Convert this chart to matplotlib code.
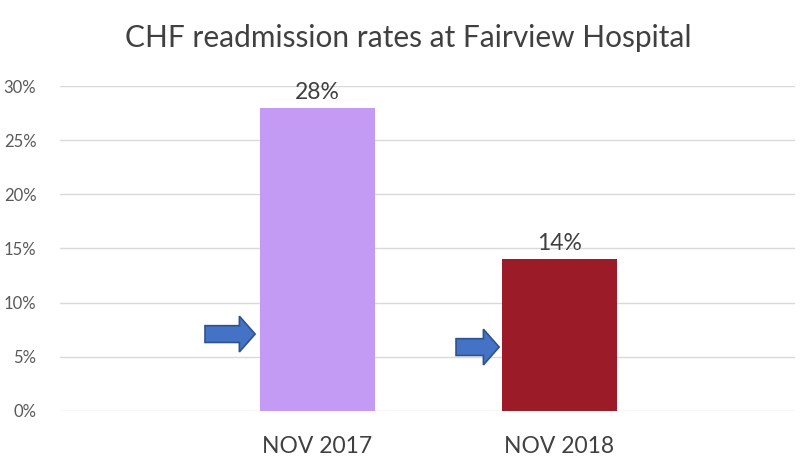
import matplotlib.pyplot as plt
from matplotlib.patches import FancyArrow
from matplotlib.ticker import PercentFormatter

# data
categories = ["NOV 2017", "NOV 2018"]
rates = [28, 14]
bar_colors = ["#C39BF5", "#9B1C28"]
arrow_levels = [7.1, 5.9]   # where the blue arrows point, in %
yticks = [0, 5, 10, 15, 20, 25, 30]

plt.rcParams['font.family'] = ['Lato', 'DejaVu Sans']

fig = plt.figure(figsize=(8, 4.76), dpi=100)
ax = fig.add_axes([0.075, 0.1366, 0.919, 0.6827])

x = list(range(len(categories)))
bars = ax.bar(x, rates, width=0.475, color=bar_colors, zorder=3)

for xi, r in zip(x, rates):
    ax.text(xi, r + 0.45, f"{r}%", ha="center", va="bottom",
            fontsize=16.5, color="#404040")

# blue arrows next to the bars
arrow_x = [-0.463, 0.574]
arrow_len = [0.207, 0.178]
for ax_x, ln, lvl in zip(arrow_x, arrow_len, arrow_levels):
    ax.add_patch(FancyArrow(ax_x, lvl, ln, 0, width=1.55, head_width=3.3,
                            head_length=0.065, length_includes_head=True,
                            facecolor="#4472C4", edgecolor="#2F528F",
                            linewidth=1.2, zorder=4))

ax.set_xlim(-1.062, 1.975)
ax.set_ylim(0, 30)
ax.set_yticks(yticks)
ax.yaxis.set_major_formatter(PercentFormatter(decimals=0))
ax.set_xticks(x)
ax.set_xticklabels(categories, fontsize=16.5, color="#404040")
ax.tick_params(axis="y", length=0, pad=17, labelsize=12, labelcolor="#595959")
ax.tick_params(axis="x", length=0, pad=18)
ax.grid(axis="y", color="#D9D9D9", linewidth=1, zorder=0)
for s in ax.spines.values():
    s.set_visible(False)

fig.text(0.51, 0.92, "CHF readmission rates at Fairview Hospital",
         ha="center", va="center", fontsize=21.5, color="#404040")

fig.savefig("out.png", dpi=100)
